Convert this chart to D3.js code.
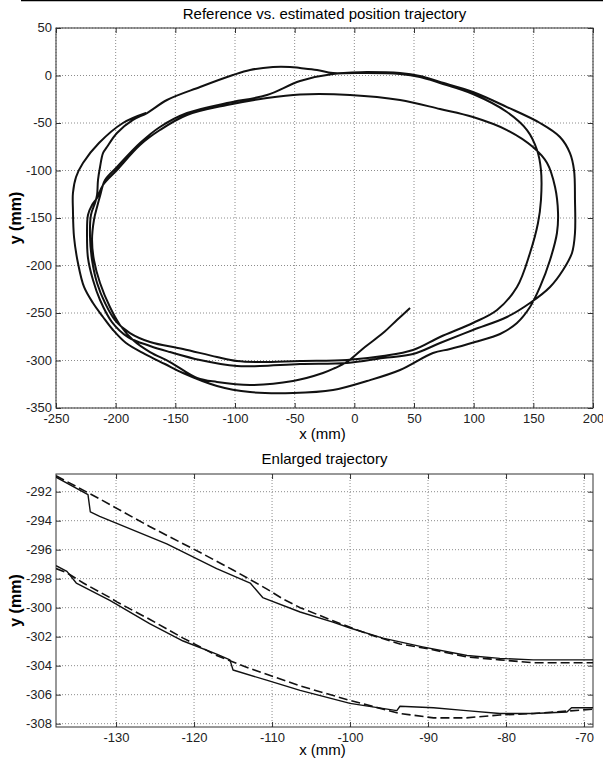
<!DOCTYPE html>
<html>
<head>
<meta charset="utf-8">
<script src="https://cdn.jsdelivr.net/npm/d3@7"></script>
<style>
  body { margin: 0; background: #fff; }
  svg { display: block; font-family: "Liberation Sans", Arial, sans-serif; }
</style>
</head>
<body>
<div id="charts"></div>
<script>
// Top chart: estimated trajectory, read lap by lap (x mm, y mm)
const lap1 = [
  [46.7,-244.7],[35.7,-257.4],[24.0,-271.1],[8.9,-285.8],[-6.2,-301.6],[-16.2,-307.9],[-26.3,-313.2],
  [-51.4,-321.6],[-87.4,-325.8],[-115.1,-322.6],[-131.8,-318.4],[-154.5,-301.6],[-171.2,-291.1],
  [-185.5,-278.4],[-196.4,-262.6],[-204.8,-243.7],[-213.1,-218.4],[-218.2,-194.2],[-219.8,-173.2],
  [-218.2,-152.1],[-215.6,-138.4],[-213.1,-126.8],
  [-208.9,-110.0],[-198.9,-96.3],[-179.6,-71.1],[-162.9,-54.2],[-140.2,-39.5],[-106.7,-29.0],
  [-73.2,-20.5],[-45.5,-5.8],[-17.9,1.6],[10.6,2.6],[38.3,1.6],[55.0,-1.6],[71.8,-7.9],[99.4,-19.5],
  [127.9,-38.4],[144.7,-57.4],[153.1,-78.4],[156.4,-99.5],[156.4,-131.1],[153.9,-155.3],[147.2,-186.8],
  [136.3,-222.6],[119.6,-246.8],[99.4,-260.5],[71.8,-275.3],
  [49.2,-289.0],[24.0,-295.3],[-6.2,-299.5],[-45.5,-300.5],[-79.1,-301.6],[-98.3,-300.5],
  [-115.1,-296.3],[-143.6,-287.9],[-171.2,-280.5]
];
const lap2 = [
  [-188.0,-271.1],[-200.6,-257.4],[-208.9,-239.5],[-215.6,-218.4],[-219.8,-194.2],[-221.5,-170.0],
  [-220.7,-146.8],[-217.3,-134.2],[-215.6,-125.8],
  [-214.8,-110.0],[-213.1,-96.3],[-210.6,-81.6],[-207.3,-75.3],[-198.9,-60.5],[-185.5,-46.8],
  [-173.7,-39.5],[-157.0,-25.8],[-129.3,-12.1],[-101.7,0.5],[-87.4,5.8],[-68.2,9.0],[-53.9,9.0],
  [-45.5,7.9],[-31.3,5.8],[-17.9,2.6],[10.6,3.7],[38.3,2.6],[55.0,-0.5],[71.8,-6.8],[99.4,-17.4],
  [127.9,-33.2],[155.6,-50.0],[172.3,-64.7],[180.7,-81.6],[184.1,-99.5],[184.9,-131.1],[184.9,-165.8],
  [182.4,-186.8],[174.9,-204.7],[164.0,-222.6],[147.2,-239.5],[127.9,-254.2],[99.4,-267.9],[71.8,-281.6],
  [49.2,-293.2],[24.0,-297.4],[-6.2,-302.6],[-45.5,-303.7],[-79.1,-305.8],[-98.3,-305.8],
  [-129.3,-299.5],[-154.5,-291.1],[-171.2,-284.7]
];
const lap3 = [
  [-189.7,-275.3],[-203.1,-259.5],[-213.1,-236.3],[-219.0,-215.3],[-223.2,-192.1],[-224.0,-167.9],
  [-223.2,-146.8],[-219.8,-136.3],[-215.6,-128.9],
  [-210.6,-115.3],[-198.9,-99.5],[-179.6,-73.2],[-162.9,-57.4],[-140.2,-41.6],[-106.7,-31.1],
  [-73.2,-23.7],[-45.5,-20.0],[-3.6,-20.5],[38.3,-25.8],[71.8,-35.3],[99.4,-43.7],[127.9,-57.4],
  [149.7,-75.3],[161.5,-92.1],[168.2,-117.4],[170.7,-144.7],[169.8,-165.8],[164.0,-194.2],
  [155.6,-222.6],[147.2,-243.7],[136.3,-260.5],[122.1,-272.1],[101.1,-280.5],[80.2,-287.9],
  [65.9,-292.1],[38.3,-310.0],[10.6,-321.6],[-17.9,-331.1],[-51.4,-334.2],[-87.4,-333.2],
  [-115.1,-326.8],[-143.6,-313.2],[-158.7,-303.7],[-175.4,-293.2],
  [-191.3,-281.6],[-202.2,-267.9],[-210.6,-254.2],[-219.0,-239.5],[-226.5,-222.6],[-231.6,-197.4],
  [-234.9,-170.0],[-235.8,-141.6],[-235.8,-123.7],[-233.2,-106.8],[-227.4,-92.1],[-214.0,-71.1],
  [-193.9,-50.0],[-174.6,-39.5]
];

// Bottom chart: enlarged part, estimated (solid) and reference (dashed)
const estUpper = [
  [-137.7,-291.0],[-133.6,-292.2],[-133.3,-293.4],[-132.1,-293.7],[-123.5,-295.6],[-117.1,-297.3],
  [-112.8,-298.3],[-111.2,-299.3],[-106.4,-300.3],[-102.2,-301.0],[-100.0,-301.4],[-95.8,-302.1],
  [-90.7,-302.7],[-85.0,-303.3],[-80.8,-303.5],[-76.5,-303.6],[-68.8,-303.6]
];
const refUpper = [
  [-137.7,-290.9],[-132.1,-292.5],[-125.7,-294.4],[-119.2,-296.2],[-115.0,-297.4],[-110.7,-298.7],
  [-108.6,-299.4],[-106.4,-300.0],[-102.2,-300.9],[-97.8,-301.8],[-93.6,-302.5],[-89.4,-302.9],
  [-85.0,-303.4],[-80.8,-303.6],[-76.5,-303.8],[-68.8,-303.8]
];
const estLower = [
  [-137.7,-297.1],[-136.3,-297.5],[-135.1,-298.3],[-130.8,-299.5],[-125.7,-301.1],[-121.4,-302.3],
  [-117.1,-303.2],[-115.4,-303.6],[-115.0,-304.3],[-110.7,-305.0],[-106.4,-305.7],[-100.0,-306.6],
  [-94.0,-307.1],[-93.6,-306.8],[-89.3,-306.9],[-85.1,-307.1],[-80.8,-307.3],[-76.5,-307.3],
  [-72.2,-307.2],[-71.6,-306.9],[-68.8,-306.9]
];
const refLower = [
  [-137.7,-297.3],[-136.3,-297.6],[-134.2,-298.3],[-130.8,-299.3],[-129.9,-299.6],[-125.7,-300.8],
  [-121.4,-302.1],[-117.1,-303.3],[-112.8,-304.2],[-106.4,-305.4],[-100.0,-306.4],[-93.6,-307.3],
  [-89.3,-307.6],[-85.1,-307.6],[-80.8,-307.4],[-76.5,-307.3],[-68.8,-307.0]
];

// Tick values
const xTicksFull = [-250, -200, -150, -100, -50, 0, 50, 100, 150, 200];
const yTicksFull = [-350, -300, -250, -200, -150, -100, -50, 0, 50];
const xTicksZoom = [-130, -120, -110, -100, -90, -80, -70];
const yTicksZoom = [-308, -306, -304, -302, -300, -298, -296, -294, -292];

(function () {

    const W = 603, H = 762;

    const svg = d3.select("#charts")
        .append("svg")
        .attr("width", W)
        .attr("height", H)
        .attr("viewBox", "0 0 " + W + " " + H);

    svg.append("rect").attr("width", W).attr("height", H).attr("fill", "#fff");

    // thin rule along the very top of the figure
    svg.append("line")
        .attr("x1", 21).attr("x2", W)
        .attr("y1", 0.5).attr("y2", 0.5)
        .attr("stroke", "#000")
        .attr("stroke-width", 1.5);

    // plain hyphen for negatives, like the original
    const fmt = d => String(d);

    // Shared axes / grid / frame drawing, MATLAB style box with inward ticks
    function drawFrame(g, x, y, xTicks, yTicks, opts) {
        const [x0, x1] = x.range();
        const [y0, y1] = y.range(); // y0 bottom, y1 top

        // dotted grid
        g.append("g")
            .selectAll("line")
            .data(xTicks)
            .enter()
            .append("line")
            .attr("x1", d => x(d)).attr("x2", d => x(d))
            .attr("y1", y1).attr("y2", y0)
            .attr("stroke", "#8c8c8c")
            .attr("stroke-width", 1)
            .attr("stroke-dasharray", "1,2");

        g.append("g")
            .selectAll("line")
            .data(yTicks)
            .enter()
            .append("line")
            .attr("x1", x0).attr("x2", x1)
            .attr("y1", d => y(d)).attr("y2", d => y(d))
            .attr("stroke", "#8c8c8c")
            .attr("stroke-width", 1)
            .attr("stroke-dasharray", "1,2");

        // axes
        const xAxis = d3.axisBottom(x).tickValues(xTicks).tickFormat(fmt).tickSize(-5).tickPadding(6).tickSizeOuter(0);
        const yAxis = d3.axisLeft(y).tickValues(yTicks).tickFormat(fmt).tickSize(-5).tickPadding(4).tickSizeOuter(0);

        g.append("g")
            .attr("transform", "translate(0," + y0 + ")")
            .call(xAxis)
            .call(a => a.select(".domain").remove())
            .attr("font-family", null)
            .attr("font-size", 13)
            .call(a => a.selectAll("text").attr("fill", "#222"))
            .call(a => a.selectAll("line").attr("stroke", "#333"));

        g.append("g")
            .attr("transform", "translate(" + x0 + ",0)")
            .call(yAxis)
            .call(a => a.select(".domain").remove())
            .attr("font-family", null)
            .attr("font-size", 13)
            .call(a => a.selectAll("text").attr("fill", "#222").attr("dy", "0.28em"))
            .call(a => a.selectAll("line").attr("stroke", "#333"));

        // top and right ticks, no labels
        g.append("g")
            .attr("transform", "translate(0," + y1 + ")")
            .call(d3.axisTop(x).tickValues(xTicks).tickSize(-5).tickFormat("").tickSizeOuter(0))
            .call(a => a.select(".domain").remove())
            .call(a => a.selectAll("line").attr("stroke", "#333"));

        g.append("g")
            .attr("transform", "translate(" + x1 + ",0)")
            .call(d3.axisRight(y).tickValues(yTicks).tickSize(-5).tickFormat("").tickSizeOuter(0))
            .call(a => a.select(".domain").remove())
            .call(a => a.selectAll("line").attr("stroke", "#333"));

        // box
        g.append("rect")
            .attr("x", x0).attr("y", y1)
            .attr("width", x1 - x0).attr("height", y0 - y1)
            .attr("fill", "none")
            .attr("stroke", "#333")
            .attr("stroke-width", 1);

        // title and labels
        g.append("text")
            .attr("x", (x0 + x1) / 2)
            .attr("y", opts.titleY)
            .attr("text-anchor", "middle")
            .attr("font-size", "15px")
            .attr("fill", "#000")
            .text(opts.title);

        g.append("text")
            .attr("x", (x0 + x1) / 2 - 2)
            .attr("y", opts.xLabelY)
            .attr("text-anchor", "middle")
            .attr("font-size", "15px")
            .attr("fill", "#000")
            .text("x (mm)");

        g.append("text")
            .attr("transform", "translate(21," + ((y0 + y1) / 2) + ") rotate(-90)")
            .attr("text-anchor", "middle")
            .attr("font-size", "16px")
            .attr("font-weight", "bold")
            .attr("fill", "#000")
            .text("y (mm)");
    }

    function trajectoryChart() {
        const xScale = d3.scaleLinear().domain([-250, 200]).range([56, 593]);
        const yScale = d3.scaleLinear().domain([-350, 50]).range([408, 28]);

        const g = svg.append("g");
        drawFrame(g, xScale, yScale, xTicksFull, yTicksFull, {
            title: "Reference vs. estimated position trajectory",
            titleY: 19,
            xLabelY: 439
        });

        const line = d3.line()
            .x(d => xScale(d[0]))
            .y(d => yScale(d[1]))
            .curve(d3.curveCatmullRom.alpha(0.5));

        svg.append("path")
            .datum(lap1.concat(lap2, lap3))
            .attr("d", line)
            .attr("fill", "none")
            .attr("stroke", "#111")
            .attr("stroke-width", 2)
            .attr("stroke-linejoin", "round");
    }

    function enlargedChart() {
        const xScale = d3.scaleLinear().domain([-137.7, -68.85]).range([56, 593]);
        const yScale = d3.scaleLinear().domain([-308.23, -290.78]).range([727, 474]);

        const g = svg.append("g");
        drawFrame(g, xScale, yScale, xTicksZoom, yTicksZoom, {
            title: "Enlarged trajectory",
            titleY: 464,
            xLabelY: 755
        });

        svg.append("clipPath")
            .attr("id", "zoomClip")
            .append("rect")
            .attr("x", 56).attr("y", 474)
            .attr("width", 537).attr("height", 253);

        const line = d3.line()
            .x(d => xScale(d[0]))
            .y(d => yScale(d[1]));

        const lines = svg.append("g").attr("clip-path", "url(#zoomClip)");

        [refUpper, refLower].forEach(function (data) {
            lines.append("path")
                .datum(data)
                .attr("d", line)
                .attr("fill", "none")
                .attr("stroke", "#111")
                .attr("stroke-width", 1.6)
                .attr("stroke-dasharray", "9,4");
        });

        [estUpper, estLower].forEach(function (data) {
            lines.append("path")
                .datum(data)
                .attr("d", line)
                .attr("fill", "none")
                .attr("stroke", "#111")
                .attr("stroke-width", 1.4)
                .attr("stroke-linejoin", "round");
        });
    }

    trajectoryChart();
    enlargedChart();

})();
</script>
</body>
</html>
